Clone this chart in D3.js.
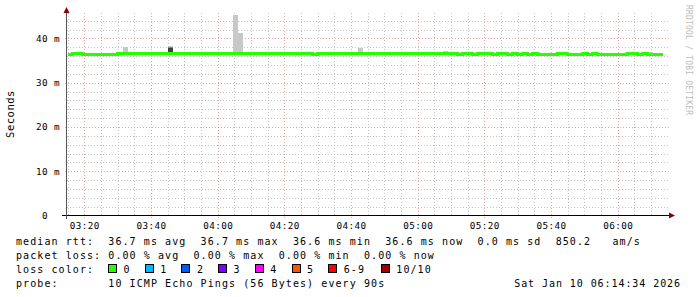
<!DOCTYPE html>
<html>
<head>
<meta charset="utf-8">
<script src="https://cdn.jsdelivr.net/npm/d3@7"></script>
<style>
  html, body { margin: 0; padding: 0; background: #fff; }
  svg { display: block; }
  text { font-family: "DejaVu Sans Mono", monospace; white-space: pre; }
</style>
</head>
<body>
<svg id="chart" width="697" height="297"></svg>
<script>
// ---------------- data ----------------
const windowStart = "2026-01-10T03:14:48Z";
const windowEnd   = "2026-01-10T06:14:48Z";
const medianStart = "2026-01-10T03:15:00Z";
const stepSeconds = 90;
// median rtt in ms, one value per 90 s step
const median = [
  36.45,36.6,36.6,36.45,36.45,36.45,36.45,36.45,36.45,36.45,
  36.6,36.6,36.6,36.6,36.6,36.6,36.6,36.6,36.6,36.6,
  36.6,36.6,36.6,36.6,36.6,36.6,36.6,36.6,36.6,36.6,
  36.6,36.6,36.6,36.6,36.6,36.6,36.6,36.6,36.6,36.6,
  36.6,36.6,36.6,36.6,36.6,36.6,36.6,36.6,36.6,36.45,
  36.6,36.6,36.6,36.6,36.6,36.6,36.6,36.6,36.6,36.6,
  36.6,36.6,36.6,36.6,36.6,36.6,36.6,36.6,36.6,36.6,
  36.6,36.6,36.6,36.6,36.6,36.6,36.6,36.6,36.45,36.6,
  36.6,36.45,36.6,36.6,36.6,36.45,36.6,36.6,36.45,36.6,
  36.45,36.6,36.45,36.6,36.45,36.45,36.45,36.45,36.6,36.6,
  36.45,36.45,36.45,36.6,36.45,36.6,36.45,36.45,36.45,36.45,
  36.45,36.45,36.6,36.6,36.45,36.6,36.45,36.45,36.45
];
// smoke (ping spread) layers: step index, upper value (ms), shade
const smokeIdx  = [11,    15,    20,    20,    20,    33,    34,    58,    59,    75,    104,   116];
const smokeHi   = [38.06, 37.0,  38.3,  38.05, 37.85, 45.35, 41.3,  37.85, 37.0,  37.2,  36.8,  37.0];
const smokeTone = ["#c8c8c8","#d2d2d2","#c8c8c8","#8a8a8a","#404040","#c8c8c8","#c8c8c8","#c8c8c8","#d8d8d8","#c8c8c8","#c8c8c8","#c8c8c8"];
const smokeLo = 36.4;

const yMax = 45.67;
const yTicks = [0, 10, 20, 30, 40];
const yTickNums = ["0", "10", "20", "30", "40"];
const yTickUnits = ["", "m", "m", "m", "m"];
const xTickTimes = ["03:20","03:40","04:00","04:20","04:40","05:00","05:20","05:40","06:00"];
const yAxisTitle = "Seconds";
const watermark = "RRDTOOL / TOBI OETIKER";

const legendRows = [
  "median rtt:  36.7 ms avg  36.7 ms max  36.6 ms min  36.6 ms now  0.0 ms sd  850.2   am/s",
  "packet loss: 0.00 % avg  0.00 % max  0.00 % min  0.00 % now",
  "loss color:",
  "probe:       10 ICMP Echo Pings (56 Bytes) every 90s"
];
const lossLabels = ["0", "1", "2", "3", "4", "5", "6-9", "10/10"];
const lossColors = ["#26ff00", "#00b8ff", "#0059ff", "#7e00ff", "#ff00ff", "#ff5500", "#ff0000", "#a10000"];
const stampText = "Sat Jan 10 06:14:34 2026";

// ---------------- layout ----------------
const plotLeft = 67, plotRight = 667, plotTop = 13.3, plotBottom = 215.6;
const svg = d3.select("#chart");

const x = d3.scaleUtc().domain([new Date(windowStart), new Date(windowEnd)]).range([plotLeft, plotRight]);
const y = d3.scaleLinear().domain([0, yMax]).range([plotBottom, plotTop]);

const t0 = new Date(medianStart).getTime();
const tAt = k => new Date(t0 + k * stepSeconds * 1000);

// grid
const gGrid = svg.append("g").attr("shape-rendering", "crispEdges");
const minorX = d3.utcMinute.every(5).range(new Date(windowStart), new Date(windowEnd));
const majorX = d3.utcMinute.every(20).range(new Date(windowStart), new Date(windowEnd));
const isMajorX = d => d.getUTCMinutes() % 20 === 0;
gGrid.selectAll("line.vminor").data(minorX.filter(d => !isMajorX(d))).enter().append("line")
  .attr("x1", d => Math.round(x(d)) + 0.5).attr("x2", d => Math.round(x(d)) + 0.5)
  .attr("y1", plotTop).attr("y2", plotBottom)
  .attr("stroke", "#c4c4c4").attr("stroke-dasharray", "1,2");
const minorY = d3.range(2, yMax, 2).filter(v => v % 10 !== 0);
gGrid.selectAll("line.hminor").data(minorY).enter().append("line")
  .attr("x1", plotLeft).attr("x2", plotRight + 2)
  .attr("y1", d => Math.round(y(d)) + 0.5).attr("y2", d => Math.round(y(d)) + 0.5)
  .attr("stroke", "#c4c4c4").attr("stroke-dasharray", "1,2");
gGrid.selectAll("line.vmajor").data(majorX).enter().append("line")
  .attr("x1", d => Math.round(x(d)) + 0.5).attr("x2", d => Math.round(x(d)) + 0.5)
  .attr("y1", plotTop).attr("y2", plotBottom + 2)
  .attr("stroke", "#e8a4a4").attr("stroke-dasharray", "1,2");
gGrid.selectAll("line.hmajor").data(yTicks.slice(1)).enter().append("line")
  .attr("x1", plotLeft - 2).attr("x2", plotRight + 2)
  .attr("y1", d => Math.round(y(d)) + 0.5).attr("y2", d => Math.round(y(d)) + 0.5)
  .attr("stroke", "#e8a4a4").attr("stroke-dasharray", "1,2");

// smoke
const gSmoke = svg.append("g").attr("shape-rendering", "crispEdges");
smokeIdx.forEach((k, i) => {
  gSmoke.append("rect")
    .attr("x", x(tAt(k))).attr("width", x(tAt(k + 1)) - x(tAt(k)))
    .attr("y", y(smokeHi[i])).attr("height", y(smokeLo) - y(smokeHi[i]))
    .attr("fill", smokeTone[i]);
});

// median line
const medPts = median.map((v, k) => [tAt(k), v]);
medPts.push([tAt(median.length), median[median.length - 1]]);
svg.append("path")
  .datum(medPts)
  .attr("fill", "none")
  .attr("stroke", lossColors[0])
  .attr("stroke-width", 3)
  .attr("shape-rendering", "crispEdges")
  .attr("d", d3.line().x(d => x(d[0])).y(d => y(d[1])).curve(d3.curveStepAfter));

// axes
const gAxis = svg.append("g").attr("shape-rendering", "crispEdges");
gAxis.append("line").attr("x1", 62).attr("x2", plotRight + 2)
  .attr("y1", 215.5).attr("y2", 215.5).attr("stroke", "#000");
gAxis.append("line").attr("x1", 66.5).attr("x2", 66.5)
  .attr("y1", 11).attr("y2", 219).attr("stroke", "#555");
// arrows
svg.append("path").attr("d", "M63.5,13 L66.5,7 L69.5,13 Z").attr("fill", "#8b0000");
svg.append("path").attr("d", "M669,212.5 L675,215.5 L669,218.5 Z").attr("fill", "#8b0000");

// y labels
const gY = svg.append("g").attr("font-size", "9.3px").attr("letter-spacing", "0.4px").attr("fill", "#000");
yTicks.forEach((v, i) => {
  gY.append("text").attr("x", 48).attr("y", y(v) + 3.4).attr("text-anchor", "end").text(yTickNums[i]);
  if (yTickUnits[i]) gY.append("text").attr("x", 54).attr("y", y(v) + 3.4).text(yTickUnits[i]);
});
// x labels
const parseHM = s => new Date("2026-01-10T" + s + ":00Z");
const gX = svg.append("g").attr("font-size", "9.3px").attr("letter-spacing", "0.4px").attr("fill", "#000");
xTickTimes.forEach(s => {
  gX.append("text").attr("x", x(parseHM(s)) + 0.5).attr("y", 228.5).attr("text-anchor", "middle").text(s);
});

// axis title
svg.append("text")
  .attr("transform", "translate(14,114) rotate(-90)")
  .attr("text-anchor", "middle").attr("font-size", "10.5px").attr("letter-spacing", "0.5px")
  .attr("fill", "#000").text(yAxisTitle);

// watermark
svg.append("text")
  .attr("transform", "translate(685.5,5) rotate(90)")
  .attr("font-size", "8px").attr("letter-spacing", "0.2px")
  .attr("fill", "#bdbdbd").text(watermark);

// legend
const gL = svg.append("g").attr("font-size", "10px").attr("letter-spacing", "1.08px").attr("fill", "#000");
const rowBase = [245, 259, 272.8, 286.8];
legendRows.forEach((s, i) => {
  gL.append("text").attr("x", 16).attr("y", rowBase[i]).text(s);
});
const boxX = [108.5, 145.2, 181.9, 218.6, 255.3, 292, 328.7, 381.3];
lossLabels.forEach((lab, i) => {
  gL.append("rect").attr("x", boxX[i]).attr("y", 264.5).attr("width", 8).attr("height", 8)
    .attr("fill", lossColors[i]).attr("stroke", "#000").attr("stroke-width", 1)
    .attr("shape-rendering", "crispEdges");
  gL.append("text").attr("x", boxX[i] + 15).attr("y", rowBase[2]).text(lab);
});
gL.append("text").attr("x", 681).attr("y", rowBase[3]).attr("text-anchor", "end")
  .attr("letter-spacing", "0.93px").text(stampText);
</script>
</body>
</html>
